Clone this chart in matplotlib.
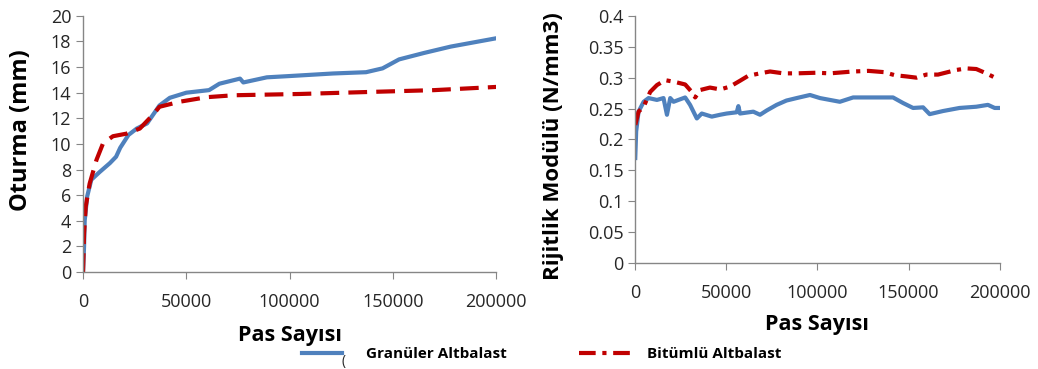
import numpy as np
import matplotlib.pyplot as plt

plt.rcParams['font.family'] = ['Open Sans', 'DejaVu Sans']

# Oturma (mm) - left panel
pas_gran_ot = [0, 500, 800, 2000, 4000, 8000, 13000, 16000, 18000, 22000, 26000, 31000,
               34000, 37000, 42000, 50000, 61000, 66000, 76000, 77600, 89000, 100000,
               121000, 137000, 145000, 153000, 165000, 178000, 200000]
otur_gran = [0, 2.0, 4.0, 5.9, 7.2, 7.8, 8.5, 9.0, 9.7, 10.7, 11.2, 11.6,
             12.3, 13.0, 13.6, 14.0, 14.2, 14.7, 15.1, 14.8, 15.2, 15.3,
             15.5, 15.6, 15.9, 16.6, 17.1, 17.6, 18.25]
pas_bit_ot = [0, 500, 1300, 3200, 6500, 9700, 14500, 21000, 27500, 34000, 37000,
              47000, 60000, 73000, 105000, 137000, 170000, 200000]
otur_bit = [0, 3.0, 5.1, 6.9, 8.75, 10.05, 10.6, 10.8, 11.2, 12.3, 12.9,
            13.3, 13.65, 13.8, 13.9, 14.05, 14.2, 14.45]

# Rijitlik Modulu (N/mm3) - right panel
pas_gran_rm = [0, 500, 1800, 4600, 7300, 11900, 15500, 17400, 19200, 21000, 23700,
               27400, 30100, 33800, 36500, 42000, 46600, 50200, 55700, 56600, 57500,
               64800, 68500, 72200, 77600, 83000, 88600, 95900, 101400, 112300,
               119600, 132400, 141500, 147000, 152500, 158000, 161600, 168900,
               178000, 187200, 193600, 197300, 200000]
rm_gran = [0.170, 0.213, 0.245, 0.261, 0.267, 0.264, 0.267, 0.240, 0.267, 0.261, 0.264,
           0.268, 0.256, 0.234, 0.242, 0.237, 0.240, 0.242, 0.244, 0.254, 0.242,
           0.245, 0.240, 0.247, 0.256, 0.263, 0.267, 0.272, 0.267, 0.261,
           0.268, 0.268, 0.268, 0.259, 0.251, 0.252, 0.241, 0.246,
           0.251, 0.253, 0.256, 0.251, 0.251]
pas_bit_rm = [0, 1800, 4600, 8200, 11900, 16400, 21900, 27400, 31000, 32900, 35600,
              41000, 46600, 52000, 57500, 62000, 68500, 74000, 81300, 88600, 99500,
              106800, 119600, 128000, 136400, 142500, 148900, 154400, 159800,
              166200, 176300, 181800, 187200, 192700, 198200, 200000]
rm_bit = [0.2235, 0.245, 0.253, 0.277, 0.288, 0.296, 0.293, 0.289, 0.277, 0.268, 0.280,
          0.284, 0.281, 0.2855, 0.295, 0.303, 0.307, 0.310, 0.307, 0.307, 0.308,
          0.307, 0.310, 0.311, 0.309, 0.304, 0.302, 0.300, 0.305,
          0.305, 0.3125, 0.315, 0.314, 0.307, 0.299, 0.299]

blue = '#4F81BD'
red = '#C00000'
grey = '#868686'
txt = '#262626'

fig = plt.figure(figsize=(10.38, 3.69), dpi=100)
ax1 = fig.add_axes([0.080, 0.263, 0.398, 0.694])
ax2 = fig.add_axes([0.612, 0.287, 0.351, 0.670])

l1, = ax1.plot(pas_gran_ot, otur_gran, color=blue, lw=3.0)
l2, = ax1.plot(pas_bit_ot, otur_bit, color=red, lw=3.0, dashes=(4.5, 2.2))
ax2.plot(pas_gran_rm, rm_gran, color=blue, lw=3.0)
l3, = ax2.plot(pas_bit_rm, rm_bit, color=red, lw=3.0, dashes=(4, 1.6, 1.0, 1.6))

ax1.set_xlim(0, 200000)
ax1.set_ylim(0, 20)
ax1.set_yticks(np.arange(0, 21, 2))
ax2.set_xlim(0, 200000)
ax2.set_ylim(0, 0.4)
ax2.set_yticks([0, 0.05, 0.1, 0.15, 0.2, 0.25, 0.3, 0.35, 0.4])
ax2.set_yticklabels(['0', '0.05', '0.1', '0.15', '0.2', '0.25', '0.3', '0.35', '0.4'])

for ax in (ax1, ax2):
    ax.set_xticks([0, 50000, 100000, 150000, 200000])
    ax.set_xticklabels(['0', '50000', '100000', '150000', '200000'])
    for s in ('top', 'right'):
        ax.spines[s].set_visible(False)
    for s in ('left', 'bottom'):
        ax.spines[s].set_color(grey)
        ax.spines[s].set_linewidth(1.0)
    ax.tick_params(colors=grey, labelcolor=txt, labelsize=13, length=5,
                   direction='out')
    ax.tick_params(axis='x', pad=10)

ax1.set_xlabel('Pas Sayısı', fontsize=15.5, fontweight='bold', color='black',
               labelpad=10)
ax2.set_xlabel('Pas Sayısı', fontsize=15.5, fontweight='bold', color='black',
               labelpad=9)
ax1.set_ylabel('Oturma (mm)', fontsize=17, fontweight='bold', color='black')
ax1.yaxis.set_label_coords(-0.122, 0.555)
ax2.set_ylabel('Rijitlik Modülü (N/mm3)', fontsize=16, fontweight='bold',
               color='black')
ax2.yaxis.set_label_coords(-0.195, 0.474)

fig.legend([l1], ['Granüler Altbalast'], loc='center left',
           bbox_to_anchor=(0.278, 0.040), frameon=False,
           handlelength=2.6, handletextpad=1.6,
           prop={'weight': 'bold', 'size': 11})
fig.text(0.329, 0.012, '(', fontsize=10, color=txt)
fig.legend([l3], ['Bitümlü Altbalast'], loc='center left',
           bbox_to_anchor=(0.545, 0.040), frameon=False,
           handlelength=3.4, handletextpad=1.0,
           prop={'weight': 'bold', 'size': 11})

fig.savefig('out.png', dpi=100)
